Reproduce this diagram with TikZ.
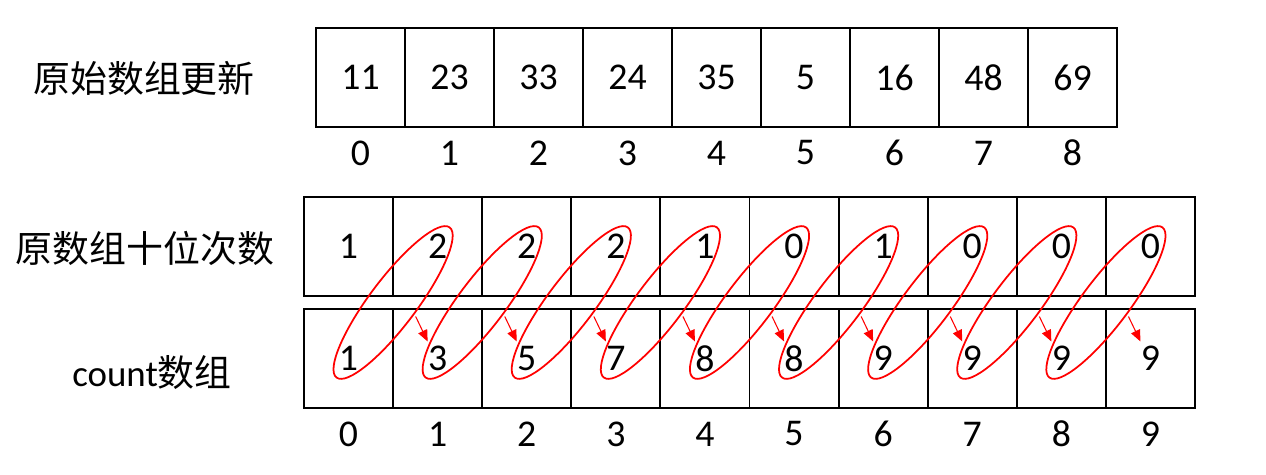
\documentclass[tikz,border=0pt]{standalone}
\usepackage{fontspec}
\setmainfont{Carlito}
\newfontfamily\cjk{Noto Sans CJK SC}
\usetikzlibrary{positioning,calc,arrows.meta}

\begin{document}
\begin{tikzpicture}[x=0.02cm, y=0.02cm, every node/.style={font=\fontsize{21.5}{25}\selectfont},
   cell/.style={draw, line width=1pt, minimum width=1.78cm, minimum height=1.98cm, inner sep=0pt},
   rowlabel/.style={font=\fontsize{21}{25}\selectfont\cjk},
   ring/.style={red, line width=1pt},
   hoparrow/.style={red, line width=0.6pt, -{Triangle[length=6.5pt,width=5.5pt]}}]
   \useasboundingbox (0,0) rectangle (1266,475);
   % Row labels
   \node[rowlabel] (labOrig) at (144,397) {原始数组更新};
   \node[rowlabel] (labDigit) at (145,227) {原数组十位次数};
   \node[rowlabel] (labCount) at (152,102) {{\normalfont count}数组};
   % Updated original array
   \foreach \v [count=\i from 0] in {11,23,33,24,35,5,16,48,69} {
      \node[cell] (orig\i) at (360.5+89*\i,397.5) {\v};
      \node (origIdx\i) at (360.5+89*\i,322) {\i};
   }
   % Tens digit counts and count array
   \foreach \v [count=\i from 0] in {1,2,2,2,1,0,1,0,0,0} {
      \node[cell] (digit\i) at (348.55+89.1*\i,228.5) {\v};
   }
   \foreach \v [count=\i from 0] in {1,3,5,7,8,8,9,9,9,9} {
      \node[cell] (cnt\i) at (348.55+89.1*\i,116.5) {\v};
      \node (cntIdx\i) at (348.55+89.1*\i,41) {\i};
   }
   % Prefix sums: circle the pair, arrow to the next count
   \foreach \j in {1,...,9} {
      \pgfmathtruncatemacro{\k}{\j-1}
      \draw[ring] ($(digit\j)!0.5!(cnt\k)$) ellipse [x radius=1.88cm, y radius=0.47cm, rotate=53];
      \draw[hoparrow] ([shift={(-22,42)}]cnt\j.center) -- ([shift={(-10,17)}]cnt\j.center);
   }
\end{tikzpicture}
\end{document}
